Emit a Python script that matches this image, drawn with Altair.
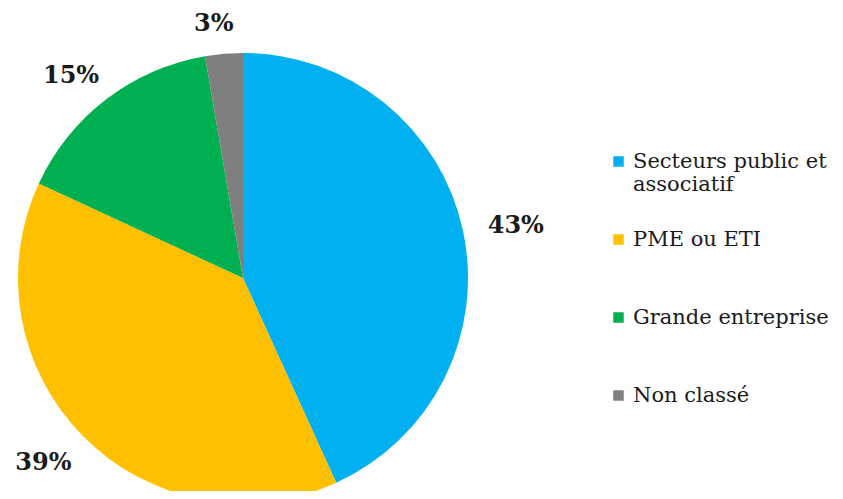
import altair as alt
import pandas as pd

categories = ["Secteurs public et associatif", "PME ou ETI", "Grande entreprise", "Non classé"]
values = [43.2, 38.7, 15.4, 2.7]
labels = ["43%", "39%", "15%", "3%"]
colors = ["#00B0F0", "#FFC000", "#00B050", "#7F7F7F"]

df = pd.DataFrame({
    "cat": categories,
    "val": values,
    "lab": labels,
    "ord": list(range(len(categories))),
})

color = alt.Color(
    "cat:N",
    scale=alt.Scale(domain=categories, range=colors),
    sort=categories,
    legend=alt.Legend(
        title=None,
        orient="none",
        legendX=600,
        legendY=143,
        symbolType="square",
        symbolSize=110,
        symbolStrokeWidth=0,
        labelFont="DejaVu Serif",
        labelFontSize=21,
        labelColor="#1a1a1a",
        labelLimit=300,
        labelOffset=4,
        rowPadding=33,
        labelExpr="datum.label == 'Secteurs public et associatif' ? ['Secteurs public et', 'associatif'] : [datum.label, '']",
    ),
)

pie = alt.Chart(df).mark_arc(radius=225).encode(
    theta=alt.Theta("val:Q", stack=True),
    order=alt.Order("ord:Q"),
    color=color,
    x=alt.value(235),
    y=alt.value(270),
)

text = alt.Chart(df).transform_joinaggregate(total="sum(val)").transform_window(
    cum="sum(val)", sort=[alt.SortField("ord")]
).transform_calculate(
    mid="(datum.cum - datum.val / 2) / datum.total * 2 * PI",
    px="235 + 273 * sin(datum.mid) + 6 * (sin(datum.mid) < 0 ? -1 : 1)",
    py="273 - 258 * cos(datum.mid)",
).mark_text(
    font="DejaVu Serif", fontWeight="bold", fontSize=24, color="#1a1a1a"
).encode(
    text="lab:N",
    x=alt.X("px:Q", scale=None),
    y=alt.Y("py:Q", scale=None),
)

chart = alt.layer(pie, text).properties(
    width=827, height=483, padding=0,
    autosize=alt.AutoSizeParams(type="none"),
).configure_view(stroke=None)

chart.save("out.html", embed_options={"renderer": "svg", "actions": False})
